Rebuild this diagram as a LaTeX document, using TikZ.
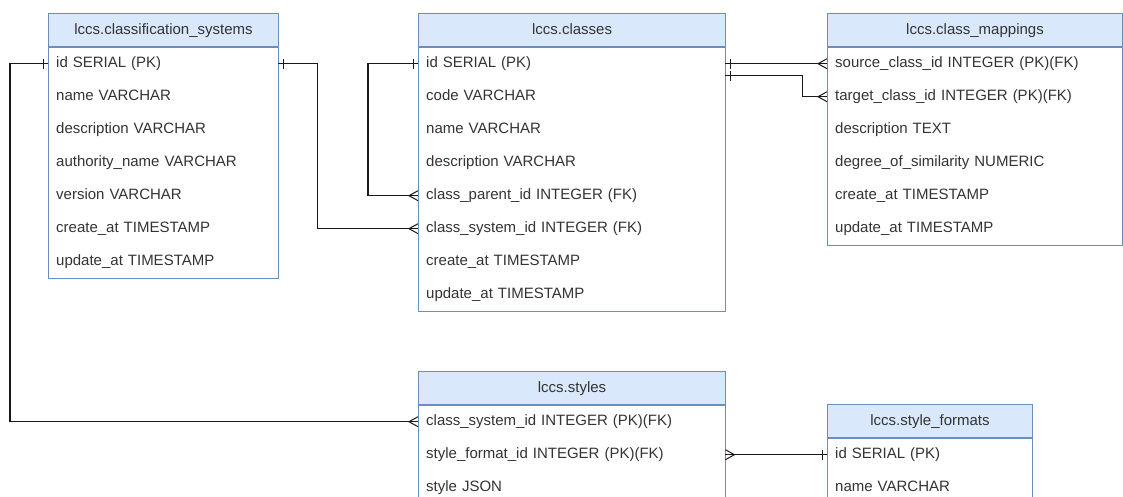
\documentclass[tikz,border=0pt]{standalone}
\usepackage{fontspec}
\setmainfont{Liberation Sans}
\usetikzlibrary{decorations.markings}
\definecolor{hdrfill}{HTML}{DAE8FC}
\definecolor{hdrline}{HTML}{6C8EBF}
\definecolor{txt}{HTML}{333333}
\tikzset{
  tblhead/.style={draw=hdrline, fill=hdrfill, line width=1pt, minimum height=33pt,
    inner sep=0pt, text height=11pt, text depth=3pt, anchor=north west, text=txt,
    font=\fontsize{15}{18}\selectfont},
  tblrow/.style={minimum height=33pt, inner xsep=8pt, inner ysep=0pt, align=left,
    text height=11pt, text depth=3pt, anchor=north west, text=txt,
    font=\fontsize{15}{18}\selectfont},
  tblframe/.style={draw=hdrline, line width=1pt},
  rel/.style={line width=1.2pt, black!90},
  onestart/.style={postaction={decorate, decoration={markings,
    mark=at position 0 with {\draw[line width=1pt] (5pt,-5pt) -- (5pt,5pt);}}}},
  oneend/.style={postaction={decorate, decoration={markings,
    mark=at position 1 with {\draw[line width=1pt] (-5pt,-5pt) -- (-5pt,5pt);}}}},
  manystart/.style={postaction={decorate, decoration={markings,
    mark=at position 0 with {\draw[line width=1pt] (0pt,5pt) -- (9pt,0pt) -- (0pt,-5pt);}}}},
  manyend/.style={postaction={decorate, decoration={markings,
    mark=at position 1 with {\draw[line width=1pt] (0pt,5pt) -- (-9pt,0pt) -- (0pt,-5pt);}}}}
}
\begin{document}
\begin{tikzpicture}[x=1pt, y=-1pt]
  \clip (0,0) rectangle (1123,496);
  % lccs.classification_systems
  \node[tblhead, minimum width=230pt] (cs) at (48,13) {lccs.classification\_systems};
  \foreach \t [count=\i] in {id SERIAL (PK), name VARCHAR, description VARCHAR,
      authority\_name VARCHAR, version VARCHAR, create\_at TIMESTAMP, update\_at TIMESTAMP}
    \node[tblrow, text width=214pt] (cs-\i) at ([yshift={-33*(\i-1)}]cs.south west) {\t};
  \draw[tblframe] (cs.south west) rectangle (cs-7.south east);
  % lccs.classes
  \node[tblhead, minimum width=307pt] (cl) at (418,13) {lccs.classes};
  \foreach \t [count=\i] in {id SERIAL (PK), code VARCHAR, name VARCHAR, description VARCHAR,
      class\_parent\_id INTEGER (FK), class\_system\_id INTEGER (FK),
      create\_at TIMESTAMP, update\_at TIMESTAMP}
    \node[tblrow, text width=291pt] (cl-\i) at ([yshift={-33*(\i-1)}]cl.south west) {\t};
  \draw[tblframe] (cl.south west) rectangle (cl-8.south east);
  % lccs.class_mappings
  \node[tblhead, minimum width=295pt] (cm) at (827,13) {lccs.class\_mappings};
  \foreach \t [count=\i] in {source\_class\_id INTEGER (PK)(FK), target\_class\_id INTEGER (PK)(FK),
      description TEXT, degree\_of\_similarity NUMERIC, create\_at TIMESTAMP, update\_at TIMESTAMP}
    \node[tblrow, text width=279pt] (cm-\i) at ([yshift={-33*(\i-1)}]cm.south west) {\t};
  \draw[tblframe] (cm.south west) rectangle (cm-6.south east);
  % lccs.styles
  \node[tblhead, minimum width=307pt] (st) at (418,371) {lccs.styles};
  \foreach \t [count=\i] in {class\_system\_id INTEGER (PK)(FK), style\_format\_id INTEGER (PK)(FK),
      style JSON}
    \node[tblrow, text width=291pt] (st-\i) at ([yshift={-33*(\i-1)}]st.south west) {\t};
  \draw[tblframe] (st.south west) rectangle (st-3.south east);
  % lccs.style_formats
  \node[tblhead, minimum width=205pt] (sf) at (827,404) {lccs.style\_formats};
  \foreach \t [count=\i] in {id SERIAL (PK), name VARCHAR}
    \node[tblrow, text width=189pt] (sf-\i) at ([yshift={-33*(\i-1)}]sf.south west) {\t};
  \draw[tblframe] (sf.south west) rectangle (sf-2.south east);
  % relations
  \draw[rel, onestart, manyend] (cs-1.west) -- ++(-38,0) |- (st-1.west);
  \draw[rel, onestart, manyend] (cs-1.east) -- ++(39,0) |- (cl-6.west);
  \draw[rel, onestart, manyend] (cl-1.west) -- ++(-50,0) |- (cl-5.west);
  \draw[rel, onestart, manyend] (cl-1.east) -- (cm-1.west);
  \draw[rel, onestart, manyend] ([yshift=-12pt]cl-1.east) -- ++(77,0) |- (cm-2.west);
  \draw[rel, manystart, oneend] (st-2.east) -- (sf-1.west);
\end{tikzpicture}
\end{document}
